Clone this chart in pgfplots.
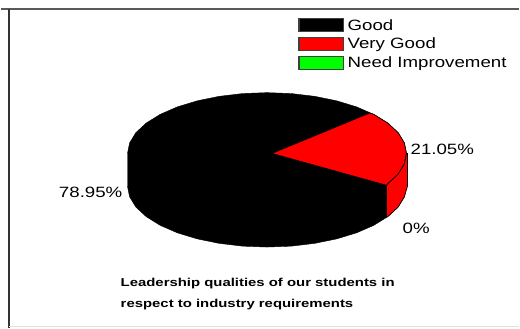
\documentclass[border=0pt]{standalone}
\usepackage{pgfplots}
\pgfplotsset{compat=1.18}
\usepackage{fontspec}
\setmainfont{Liberation Sans}
\newfontfamily\wide[FakeStretch=1.25]{Liberation Sans}
\newfontfamily\widebold[FakeStretch=1.3]{Liberation Sans}
\begin{document}
\begin{tikzpicture}[x=1pt,y=1pt]
\begin{axis}[
  name=ax, scale only axis, width=520pt, height=329pt,
  xmin=0, xmax=520, ymin=0, ymax=329, y dir=reverse,
  hide axis, clip=false,
  legend cell align=left,
  legend style={draw=none, fill=none, at={(axis cs:298.5,18)}, anchor=north west,
    font=\wide\fontsize{15}{15}\selectfont, inner sep=0pt, outer sep=0pt,
    row sep=4.6pt, nodes={inner sep=0pt, outer sep=0pt, text depth=0pt, text height=10pt}},
  legend image code/.code={
    \draw[#1, line width=1.3pt, draw=black!75] (0pt,-6.5pt) rectangle (44.5pt,6.5pt);
    \path (48.5pt,0pt);
  },
]
% body: upper rim and lower rim of the cylinder
\addplot[fill=black, draw=black] coordinates {
 (127,154)(129.1,143.4)(135.4,133.1)(145.8,123.5)(159.8,114.8)(177,107.3)(197,101.2)(219.1,96.7)(242.7,93.9)(267,93)
 (291.3,93.9)(314.9,96.7)(337,101.2)(357,107.3)(374.2,114.8)(388.2,123.5)(398.6,133.1)(404.9,143.4)(407,154)
 (407,187)(404.9,197.6)(398.6,207.9)(388.2,217.5)(374.2,226.2)(357,233.7)(337,239.8)(314.9,244.3)(291.3,247.1)(267,248)
 (242.7,247.1)(219.1,244.3)(197,239.8)(177,233.7)(159.8,226.2)(145.8,217.5)(135.4,207.9)(129.1,197.6)(127,187)
} -- cycle;
\addlegendentry{Good}
% Very Good: top sector
\addplot[fill=red, draw=black, line width=0.7pt] coordinates {
 (272,154)(370,113.5)(374.2,114.8)(388.2,123.5)(398.6,133.1)(404.9,143.4)(407,154)(404.9,164.6)(398.6,174.9)(388.2,184.5)(387,186)
} -- cycle;
\addlegendentry{Very Good}
% Very Good: side
\addplot[forget plot, fill=red, draw=black, line width=0.7pt] coordinates {
 (387,186)(388.2,184.5)(398.6,174.9)(404.9,164.6)(407,154)(408,154)(408,187)(404.9,197.6)(398.6,207.9)(388.2,217.5)(387,218)
} -- cycle;
\addlegendimage{fill=green}
\addlegendentry{Need Improvement}
\node[anchor=east, font=\wide\fontsize{15}{15}\selectfont, inner sep=0pt] at (axis cs:122,193) {78.95\%};
\node[anchor=west, font=\wide\fontsize{15}{15}\selectfont, inner sep=0pt] at (axis cs:411,149.5) {21.05\%};
\node[anchor=west, font=\wide\fontsize{15}{15}\selectfont, inner sep=0pt] at (axis cs:403,229.5) {0\%};
\node[anchor=west, font=\widebold\bfseries\fontsize{11.5}{11.5}\selectfont, inner sep=0pt] at (axis cs:120,285) {Leadership qualities of our students in};
\node[anchor=west, font=\widebold\bfseries\fontsize{11.5}{11.5}\selectfont, inner sep=0pt] at (axis cs:120,306) {respect to industry requirements};
\draw[black!65, line width=2pt] (axis cs:0,9) -- (axis cs:520,9);
\draw[black!80, line width=2pt] (axis cs:8,9) -- (axis cs:8,329);
\draw[black!12, line width=1pt] (axis cs:8,328) -- (axis cs:520,328);
\coordinate (tl) at (axis cs:0,0);
\coordinate (br) at (axis cs:520,329);
\end{axis}
\useasboundingbox (tl) rectangle (br);
\end{tikzpicture}
\end{document}
